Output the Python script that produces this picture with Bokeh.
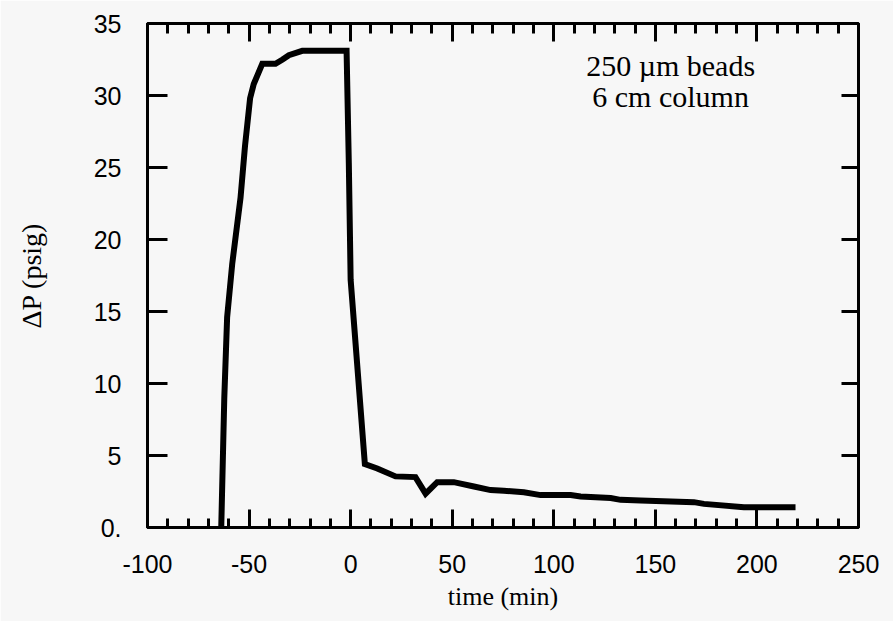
from bokeh.plotting import figure
from bokeh.models import FixedTicker, LinearAxis, Range1d, ColumnDataSource
from bokeh.embed import file_html
from bokeh.resources import INLINE
from bokeh.core.properties import value

# ---- data ----
time_min = [-63.7, -62.2, -60.8, -58.3, -54.2, -52.0, -49.5, -47.7, -43.5, -37.0,
            -33.5, -30.4, -23.8, -2.0, -0.9, 0.0, 7.0, 13.1, 22.1, 31.9, 36.9,
            42.6, 50.8, 60.7, 68.9, 75.4, 85.3, 93.5, 108.3, 113.2, 128.0, 132.9,
            142.7, 169.0, 173.9, 193.6, 219.0]
dp_psig = [0.0, 9.0, 14.6, 18.3, 22.9, 26.5, 29.8, 30.8, 32.2, 32.2,
           32.5, 32.8, 33.1, 33.1, 25.3, 17.2, 4.4, 4.1, 3.55, 3.5, 2.35,
           3.15, 3.15, 2.85, 2.6, 2.55, 2.45, 2.25, 2.25, 2.15, 2.05, 1.92,
           1.87, 1.76, 1.64, 1.41, 1.41]

x_ticks = [-100, -50, 0, 50, 100, 150, 200, 250]
x_label_overrides = {-100: "-100", -50: "-50"}
x_minor_ticks = list(range(-100, 251, 10))
y_ticks = [0, 5, 10, 15, 20, 25, 30, 35]
y_label_overrides = {0: "0."}

note_lines = ["250 \u00b5m beads", "6 cm column"]
note_x = [157.5, 157.5]
note_y = [32.05, 29.9]

BG = "#f7f7f7"

p = figure(width=893, height=621,
           x_range=Range1d(-100, 250), y_range=Range1d(0, 35),
           output_backend="svg", toolbar_location=None,
           x_axis_location=None, y_axis_location=None,
           min_border_left=147, min_border_right=35,
           min_border_top=23, min_border_bottom=94)
p.background_fill_color = BG
p.border_fill_color = BG
p.outline_line_color = "black"
p.outline_line_width = 3
p.xgrid.visible = False
p.ygrid.visible = False

def style_axis(ax, major_in, minor_in, show_labels):
    ax.axis_line_color = None
    ax.major_tick_in = major_in
    ax.major_tick_out = 0
    ax.minor_tick_in = minor_in
    ax.minor_tick_out = 0
    ax.major_tick_line_width = 3
    ax.minor_tick_line_width = 3
    ax.major_tick_line_color = "black"
    ax.minor_tick_line_color = "black"
    if show_labels:
        ax.major_label_text_font = "Liberation Sans"
        ax.major_label_text_font_size = "25px"
        ax.major_label_text_color = "black"
    else:
        ax.major_label_text_font_size = "1px"
        ax.major_label_text_color = None
        ax.major_label_standoff = 0

xt = FixedTicker(ticks=x_ticks, minor_ticks=x_minor_ticks)
yt = FixedTicker(ticks=y_ticks, minor_ticks=[])

bottom = LinearAxis(ticker=xt, axis_label="time (min)")
style_axis(bottom, 18, 9, True)
bottom.major_label_overrides = x_label_overrides
bottom.major_label_standoff = 27
bottom.axis_label_standoff = 6
bottom.axis_label_text_font = "Liberation Serif"
bottom.axis_label_text_font_size = "26px"
bottom.axis_label_text_font_style = "normal"
bottom.axis_label_text_color = "black"
p.add_layout(bottom, "below")

top = LinearAxis(ticker=xt)
style_axis(top, 18, 10, False)
p.add_layout(top, "above")

left = LinearAxis(ticker=yt, axis_label="\u0394P (psig)")
style_axis(left, 20, 0, True)
left.major_label_overrides = y_label_overrides
left.major_label_standoff = 26
left.axis_label_standoff = 44
left.axis_label_text_font = "Liberation Serif"
left.axis_label_text_font_size = "28px"
left.axis_label_text_font_style = "normal"
left.axis_label_text_color = "black"
p.add_layout(left, "left")

right = LinearAxis(ticker=yt)
style_axis(right, 17, 0, False)
p.add_layout(right, "right")

src = ColumnDataSource(dict(t=time_min, dp=dp_psig))
p.line("t", "dp", source=src, line_color="black", line_width=6,
       line_join="miter", line_cap="butt")

nsrc = ColumnDataSource(dict(x=note_x, y=note_y, text=note_lines))
p.text("x", "y", text="text", source=nsrc, text_font=value("Liberation Serif"),
       text_font_size="30px", text_align="center", text_baseline="alphabetic",
       text_color="black")

open("out.html", "w").write(file_html(p, INLINE))
